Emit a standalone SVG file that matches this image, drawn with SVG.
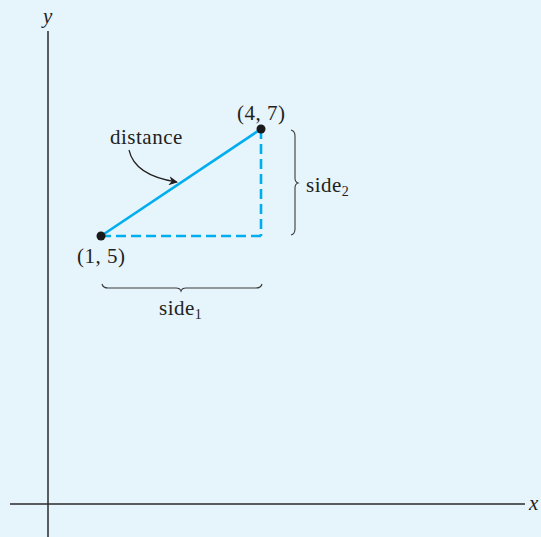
<svg xmlns="http://www.w3.org/2000/svg" width="541" height="537" viewBox="0 0 541 537">
<defs>
<style>
.t{font-family:"Liberation Serif","Times New Roman",serif;font-size:21px;fill:#231f20;letter-spacing:0.5px}
.sub{font-size:14px;letter-spacing:0}
.ax{stroke:#2b2b2b;stroke-width:1.5;fill:none}
.br{stroke:#3a3a3a;stroke-width:1.1;fill:none}
.seg{stroke:#00aeef;stroke-width:2.6;fill:none}
.dash{stroke:#00aeef;stroke-width:2.6;fill:none;stroke-dasharray:10 5}
.dot{fill:#1a1a1a}
</style>
<marker id="ah" viewBox="0 0 10 10" refX="9" refY="5" markerWidth="9" markerHeight="9" markerUnits="userSpaceOnUse" orient="auto">
<path d="M0,0 L10,5 L0,10 L3,5 Z" fill="#231f20"/>
</marker>
</defs>
<rect width="541" height="537" fill="#e6f4fc"/>
<g id="axes">
<line class="ax" x1="48" y1="31" x2="48" y2="537"/>
<line class="ax" x1="10" y1="504" x2="525" y2="504"/>
<text class="t" x="43" y="23" font-style="italic">y</text>
<text class="t" x="529" y="510" font-style="italic">x</text>
</g>
<g id="connectors">
<line class="seg" x1="101" y1="236" x2="261" y2="129"/>
<line class="dash" x1="101" y1="236" x2="261" y2="236"/>
<line class="dash" x1="261" y1="129" x2="261" y2="236"/>
<path d="M129,150 C133,168 150,178 177,182" stroke="#231f20" stroke-width="1.2" fill="none" marker-end="url(#ah)"/>
</g>
<g id="p1">
<circle class="dot" cx="101" cy="236" r="4.5"/>
<text class="t" x="77" y="263">(1, 5)</text>
</g>
<g id="p2">
<circle class="dot" cx="261" cy="129" r="4.5"/>
<text class="t" x="237" y="120">(4, 7)</text>
</g>
<g id="distance">
<text class="t" x="110" y="144">distance</text>
</g>
<g id="side2">
<path class="br" d="M291,130 Q295,131 295,136 L295,178 Q295,182 298,183 Q295,184 295,188 L295,229 Q295,234 291,235"/>
<text class="t" x="306" y="192">side<tspan class="sub" dy="4">2</tspan></text>
</g>
<g id="side1">
<path class="br" d="M102,284 Q103,288 108,288 L176,288 Q180,288 181,291 Q182,288 186,288 L256,288 Q261,288 262,284"/>
<text class="t" x="159" y="315">side<tspan class="sub" dy="4">1</tspan></text>
</g>
</svg>
